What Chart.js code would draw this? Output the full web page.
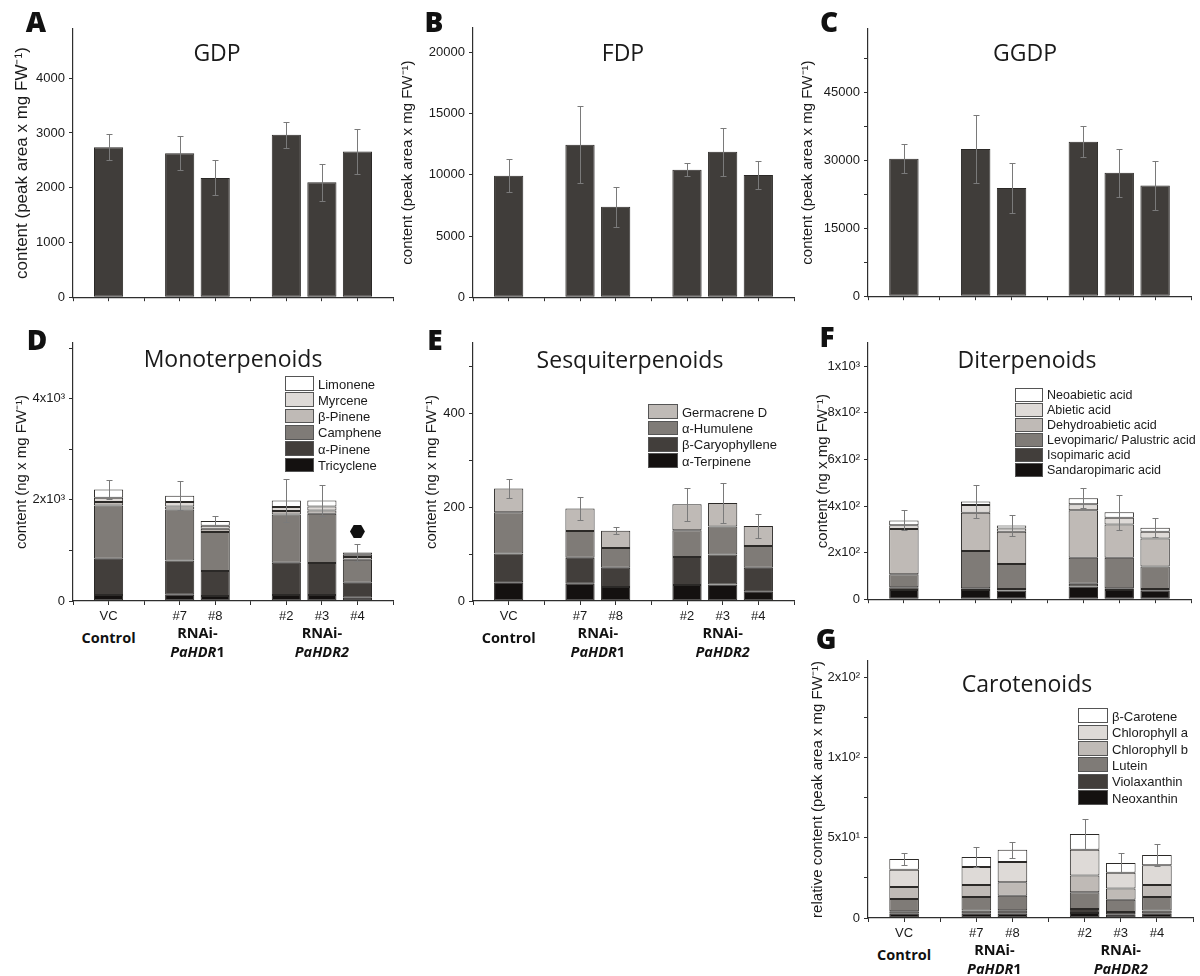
<!DOCTYPE html>
<html>
<head>
<meta charset="utf-8">
<script src="https://cdn.jsdelivr.net/npm/chart.js@4/dist/chart.umd.min.js"></script>
<style>
  body { margin: 0; width: 1200px; height: 976px; position: relative; overflow: hidden; background: #fff;
         font-family: "Liberation Sans", Arial, sans-serif; color: #1a1a1a; }
  canvas { position: absolute; }
  .c { position: absolute; white-space: nowrap; transform: translate(-50%, -50%); line-height: 1; }
  .ttl { font-family: "Open Sans", sans-serif; font-size: 23px; color: #1a1a1a; }
  .let { font-family: "Open Sans", sans-serif; font-size: 28px; font-weight: 800; color: #111; }
  .grp { font-family: "Open Sans", sans-serif; font-size: 14.5px; font-weight: 700; color: #111; }
  .lbox { position: absolute; box-sizing: border-box; border: 1px solid #555; }
  .ltxt { position: absolute; white-space: nowrap; transform: translateY(-50%); line-height: 1; color: #1a1a1a; }
</style>
</head>
<body>
<script>
'use strict';

// ── Data ───────────────────────────────────────────────────────────────────────
const slotLabels = ['', 'VC', '', '#7', '#8', '', '#2', '#3', '#4', ''];
const slotOf = [1, 3, 4, 6, 7, 8];   // VC, #7, #8, #2, #3, #4

const gdp = [2740, 2630, 2180, 2970, 2100, 2660];
const gdpErr = [240, 310, 320, 235, 335, 415];
const fdp = [9930, 12450, 7390, 10420, 11880, 9980];
const fdpErr = [1350, 3140, 1620, 550, 1950, 1150];
const ggdp = [30330, 32520, 23900, 34120, 27260, 24470];
const ggdpErr = [3200, 7500, 5600, 3400, 5300, 5450];

// monoterpenoids (bottom → top of stack)
const tricyclene = [120, 126, 99, 118, 118, 66];
const alphaPinene = [717, 677, 493, 640, 633, 296];
const camphene = [1052, 1007, 770, 953, 973, 455];
const betaPinene = [66, 59, 66, 66, 66, 53];
const myrcene = [86, 86, 59, 79, 79, 46];
const limonene = [164, 125, 92, 132, 119, 45];
const monoErr = [190, 290, 100, 430, 310, 170];
const monoMark = 1376;   // hexagon above #4

// sesquiterpenoids
const alphaTerpinene = [40, 37, 30, 34, 35, 21];
const betaCaryophyllene = [61, 55, 41, 60, 64, 50];
const alphaHumulene = [88, 57, 42, 57, 60, 46];
const germacreneD = [51, 48, 37, 55, 50, 43];
const sesquiErr = [20, 25, 8, 35, 43, 25];

// diterpenoids
const sandaropimaric = [40, 40, 37, 54, 40, 36];
const isopimaric = [11, 7, 7, 12, 7, 8];
const levopimaric = [56, 160, 107, 112, 131, 96];
const dehydroabietic = [194, 164, 139, 204, 143, 121];
const abietic = [17, 33, 14, 26, 29, 29];
const neoabietic = [20, 16, 12, 25, 23, 17];
const diterpErr = [43, 72, 45, 43, 75, 42];

// carotenoids
const neoxanthin = [2.7, 2.7, 2.7, 3.1, 2.3, 2.7];
const violaxanthin = [1.5, 1.9, 2.1, 2.5, 1.4, 1.9];
const lutein = [7.6, 8.5, 9.1, 10.4, 7.7, 8.5];
const chlorophyllB = [7.5, 7.4, 8.3, 10.5, 6.9, 7.4];
const chlorophyllA = [10.8, 11.3, 12.6, 16.0, 9.8, 12.3];
const betaCarotene = [6.6, 6.2, 7.7, 9.8, 6.2, 6.4];
const caroErr = [3.5, 6, 5, 9.5, 6, 7];

// y ticks
const ticksA = [0, 1000, 2000, 3000, 4000];
const tickLabelsA = ['0', '1000', '2000', '3000', '4000'];
const ticksB = [0, 5000, 10000, 15000, 20000];
const tickLabelsB = ['0', '5000', '10000', '15000', '20000'];
const ticksC = [0, 7500, 15000, 22500, 30000, 37500, 45000, 52500];
const tickLabelsC = ['0', '', '15000', '', '30000', '', '45000', ''];
const ticksD = [0, 1000, 2000, 3000, 4000, 5000];
const tickLabelsD = ['0', '', '2x10³', '', '4x10³', ''];
const ticksE = [0, 100, 200, 300, 400, 500];
const tickLabelsE = ['0', '', '200', '', '400', ''];
const ticksF = [0, 200, 400, 600, 800, 1000];
const tickLabelsF = ['0', '2x10²', '4x10²', '6x10²', '8x10²', '1x10³'];
const ticksG = [0, 25, 50, 75, 100, 125, 150];
const tickLabelsG = ['0', '', '5x10¹', '', '1x10²', '', '2x10²'];

// ── Style ──────────────────────────────────────────────────────────────────────
const SHADES = ['#141110', '#423e3b', '#7f7b77', '#bfbab6', '#dedad7', '#ffffff'];
const BAR_DARK = '#403d3a';
const AXIS = '#2e2e2e';
const TICK_FONT = { family: 'Liberation Sans', size: 13 };
const PEAK_TITLE = 'content (peak area x mg FW⁻¹)';
const NG_TITLE = 'content (ng x mg FW⁻¹)';

function toSlots(arr) {
  const out = new Array(slotLabels.length).fill(null);
  slotOf.forEach((s, k) => { out[s] = arr[k]; });
  return out;
}

// error bars + significance marker, placed through the chart's own scales
const errorBars = {
  id: 'errorBars',
  afterDatasetsDraw(chart, args, opts) {
    if (!opts.err) return;
    const ys = chart.scales.y;
    const metas = chart.getSortedVisibleDatasetMetas();
    const top = metas[metas.length - 1];
    const ctx = chart.ctx;
    ctx.save();
    ctx.strokeStyle = '#7a7a7a';
    ctx.lineWidth = 1;
    opts.err.forEach((e, k) => {
      const i = slotOf[k];
      let total = 0;
      chart.data.datasets.forEach(ds => { total += ds.data[i] || 0; });
      const x = Math.round(top.data[i].x) + 0.5;
      const y1 = Math.round(ys.getPixelForValue(total + e)) + 0.5;
      const y2 = Math.round(ys.getPixelForValue(total - e)) + 0.5;
      ctx.beginPath();
      ctx.moveTo(x, y1); ctx.lineTo(x, y2);
      ctx.moveTo(x - 3, y1); ctx.lineTo(x + 3, y1);
      ctx.moveTo(x - 3, y2); ctx.lineTo(x + 3, y2);
      ctx.stroke();
    });
    if (opts.mark) {
      const x = top.data[slotOf[opts.mark.k]].x;
      const y = ys.getPixelForValue(opts.mark.value);
      ctx.fillStyle = '#111';
      ctx.beginPath();
      for (let a = 0; a < 6; a++) {
        const t = a * Math.PI / 3;
        const px = x + 7.5 * Math.cos(t), py = y + 7.5 * Math.sin(t);
        a ? ctx.lineTo(px, py) : ctx.moveTo(px, py);
      }
      ctx.closePath();
      ctx.fill();
    }
    ctx.restore();
  }
};
Chart.register(errorBars);

function addText(html, x, y, cls, extra) {
  const d = document.createElement('div');
  d.className = cls;
  d.innerHTML = html;
  d.style.left = x + 'px';
  d.style.top = y + 'px';
  if (extra) Object.assign(d.style, extra);
  document.body.appendChild(d);
  return d;
}

// ── Panel builder ──────────────────────────────────────────────────────────────
function panel(cfg) {
  const yW = 80, padT = 12, padR = 6;
  const tSize = cfg.titleSize || 15;
  const w = cfg.R - cfg.L + yW + padR;
  const h = cfg.B - cfg.T + padT + cfg.xH;
  const c = document.createElement('canvas');
  c.width = w; c.height = h;
  c.style.width = w + 'px'; c.style.height = h + 'px';
  c.style.left = (cfg.L - yW) + 'px';
  c.style.top = (cfg.T - padT) + 'px';
  document.body.appendChild(c);

  new Chart(c, {
    type: 'bar',
    data: {
      labels: slotLabels,
      datasets: cfg.series.map(s => ({
        label: s.name,
        data: toSlots(s.data),
        backgroundColor: s.color,
        borderColor: '#2b2927',
        borderWidth: 1,
        borderSkipped: false,
        barPercentage: 0.82,
        categoryPercentage: 1,
      })),
    },
    options: {
      responsive: false,
      animation: false,
      layout: { padding: { left: 0, top: padT, right: padR, bottom: 0 } },
      plugins: {
        legend: { display: false },
        tooltip: { enabled: false },
        errorBars: { err: cfg.err, mark: cfg.mark },
      },
      scales: {
        x: {
          stacked: true,
          offset: false,
          grid: { display: true, offset: false, drawOnChartArea: false, drawTicks: true,
                  tickLength: 4, tickColor: AXIS, tickWidth: 1 },
          border: { display: true, color: AXIS, width: 1.2 },
          ticks: { display: cfg.showX, color: '#1a1a1a', font: TICK_FONT, padding: 4,
                   autoSkip: false, maxRotation: 0, minRotation: 0 },
          afterFit: s => { s.height = cfg.xH; },
        },
        y: {
          stacked: true,
          min: 0,
          max: cfg.max,
          afterBuildTicks: s => { s.ticks = cfg.ticks.map(v => ({ value: v })); },
          afterFit: s => { s.width = yW; },
          grid: { display: true, drawOnChartArea: false, drawTicks: true,
                  tickLength: 4, tickColor: AXIS, tickWidth: 1 },
          border: { display: true, color: AXIS, width: 1.2 },
          ticks: { autoSkip: false, color: '#1a1a1a', font: TICK_FONT, padding: 4,
                   callback: (v, i) => cfg.tickLabels[i] },
          title: { display: true, text: cfg.ytitle, color: '#1a1a1a',
                   font: { family: 'Liberation Sans', size: tSize },
                   padding: { top: yW - tSize * 0.6 - cfg.titleOff, bottom: 0 } },
        },
      },
    },
  });

  addText(cfg.title.text, cfg.title.x, cfg.title.y, 'c ttl');
  addText(cfg.letter.text, cfg.letter.x, cfg.letter.y, 'c let');

  if (cfg.groups) {
    const step = (cfg.R - cfg.L) / 9;
    addText('Control', cfg.L + step, cfg.B + 37, 'c grp');
    addText('RNAi-', cfg.L + 3.5 * step, cfg.B + 32, 'c grp');
    addText('<i>PaHDR</i>1', cfg.L + 3.5 * step, cfg.B + 51, 'c grp');
    addText('RNAi-', cfg.L + 7 * step, cfg.B + 32, 'c grp');
    addText('<i>PaHDR2</i>', cfg.L + 7 * step, cfg.B + 51, 'c grp');
  }

  if (cfg.legend) {
    const lg = cfg.legend;
    const bh = lg.rowH - 1.5;
    cfg.series.slice().reverse().forEach((s, r) => {
      const cy = lg.y + r * lg.rowH;
      const b = document.createElement('div');
      b.className = 'lbox';
      Object.assign(b.style, { left: lg.x + 'px', top: (cy - bh / 2) + 'px',
        width: lg.boxW + 'px', height: bh + 'px', background: s.color });
      document.body.appendChild(b);
      const t = document.createElement('div');
      t.className = 'ltxt';
      t.textContent = s.name;
      Object.assign(t.style, { left: (lg.x + lg.boxW + 4) + 'px', top: cy + 'px', fontSize: lg.size + 'px' });
      document.body.appendChild(t);
    });
  }
}

// ── Panels ─────────────────────────────────────────────────────────────────────
panel({ L: 73, R: 393, T: 29, B: 299, xH: 10, showX: false, max: 4900,
  ticks: ticksA, tickLabels: tickLabelsA, ytitle: PEAK_TITLE, titleOff: 51, titleSize: 17,
  series: [{ name: 'GDP', data: gdp, color: BAR_DARK }], err: gdpErr,
  title: { text: 'GDP', x: 217, y: 52 }, letter: { text: 'A', x: 36, y: 21 } });

panel({ L: 473, R: 794, T: 28, B: 299, xH: 10, showX: false, max: 22000,
  ticks: ticksB, tickLabels: tickLabelsB, ytitle: PEAK_TITLE, titleOff: 65,
  series: [{ name: 'FDP', data: fdp, color: BAR_DARK }], err: fdpErr,
  title: { text: 'FDP', x: 623, y: 52 }, letter: { text: 'B', x: 434, y: 21 } });

panel({ L: 868, R: 1191, T: 29, B: 298, xH: 10, showX: false, max: 59000,
  ticks: ticksC, tickLabels: tickLabelsC, ytitle: PEAK_TITLE, titleOff: 60,
  series: [{ name: 'GGDP', data: ggdp, color: BAR_DARK }], err: ggdpErr,
  title: { text: 'GGDP', x: 1025, y: 52 }, letter: { text: 'C', x: 829, y: 21 } });

panel({ L: 73, R: 393, T: 343, B: 601, xH: 25, showX: true, max: 5100, groups: true,
  ticks: ticksD, tickLabels: tickLabelsD, ytitle: NG_TITLE, titleOff: 51,
  series: [
    { name: 'Tricyclene', data: tricyclene, color: SHADES[0] },
    { name: 'α-Pinene', data: alphaPinene, color: SHADES[1] },
    { name: 'Camphene', data: camphene, color: SHADES[2] },
    { name: 'β-Pinene', data: betaPinene, color: SHADES[3] },
    { name: 'Myrcene', data: myrcene, color: SHADES[4] },
    { name: 'Limonene', data: limonene, color: SHADES[5] },
  ],
  err: monoErr, mark: { k: 5, value: monoMark },
  legend: { x: 285, y: 383.5, rowH: 16.3, boxW: 29, size: 13 },
  title: { text: 'Monoterpenoids', x: 233, y: 358 }, letter: { text: 'D', x: 37, y: 339 } });

panel({ L: 473, R: 794, T: 343, B: 601, xH: 25, showX: true, max: 550, groups: true,
  ticks: ticksE, tickLabels: tickLabelsE, ytitle: NG_TITLE, titleOff: 41,
  series: [
    { name: 'α-Terpinene', data: alphaTerpinene, color: SHADES[0] },
    { name: 'β-Caryophyllene', data: betaCaryophyllene, color: SHADES[1] },
    { name: 'α-Humulene', data: alphaHumulene, color: SHADES[2] },
    { name: 'Germacrene D', data: germacreneD, color: SHADES[3] },
  ],
  err: sesquiErr,
  legend: { x: 648, y: 411.7, rowH: 16.3, boxW: 30, size: 13 },
  title: { text: 'Sesquiterpenoids', x: 630, y: 359 }, letter: { text: 'E', x: 435, y: 339 } });

panel({ L: 868, R: 1191, T: 343, B: 601, xH: 10, showX: false, max: 1100,
  ticks: ticksF, tickLabels: tickLabelsF, ytitle: NG_TITLE, titleOff: 45,
  series: [
    { name: 'Sandaropimaric acid', data: sandaropimaric, color: SHADES[0] },
    { name: 'Isopimaric acid', data: isopimaric, color: SHADES[1] },
    { name: 'Levopimaric/ Palustric acid', data: levopimaric, color: SHADES[2] },
    { name: 'Dehydroabietic acid', data: dehydroabietic, color: SHADES[3] },
    { name: 'Abietic acid', data: abietic, color: SHADES[4] },
    { name: 'Neoabietic acid', data: neoabietic, color: SHADES[5] },
  ],
  err: diterpErr,
  legend: { x: 1015, y: 395, rowH: 15, boxW: 28, size: 12.5 },
  title: { text: 'Diterpenoids', x: 1027, y: 359 }, letter: { text: 'F', x: 827, y: 336 } });

panel({ L: 868, R: 1193, T: 661, B: 918, xH: 25, showX: true, max: 160, groups: true,
  ticks: ticksG, tickLabels: tickLabelsG, ytitle: 'relative content (peak area x mg FW⁻¹)', titleOff: 50,
  series: [
    { name: 'Neoxanthin', data: neoxanthin, color: SHADES[0] },
    { name: 'Violaxanthin', data: violaxanthin, color: SHADES[1] },
    { name: 'Lutein', data: lutein, color: SHADES[2] },
    { name: 'Chlorophyll b', data: chlorophyllB, color: SHADES[3] },
    { name: 'Chlorophyll a', data: chlorophyllA, color: SHADES[4] },
    { name: 'β-Carotene', data: betaCarotene, color: SHADES[5] },
  ],
  err: caroErr,
  legend: { x: 1078, y: 715.7, rowH: 16.4, boxW: 30, size: 13 },
  title: { text: 'Carotenoids', x: 1027, y: 683 }, letter: { text: 'G', x: 826, y: 638 } });
</script>
</body>
</html>
